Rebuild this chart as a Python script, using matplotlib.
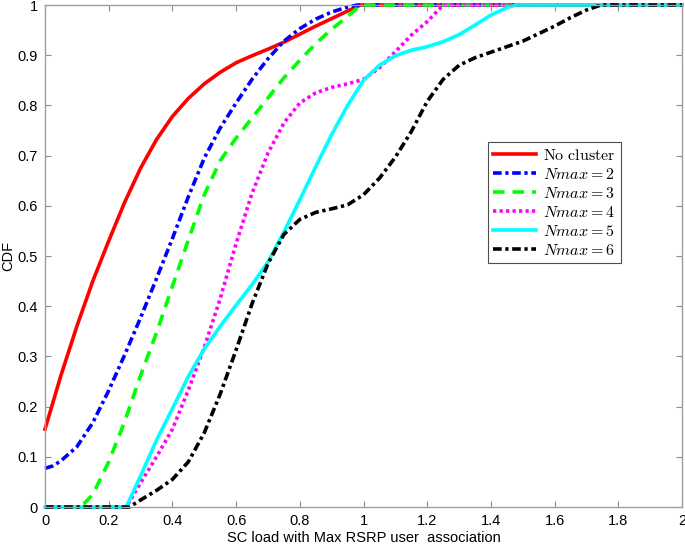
import matplotlib
matplotlib.use('Agg')
import matplotlib.pyplot as plt

plt.rcParams['font.family'] = ['Liberation Sans', 'DejaVu Sans']
plt.rcParams['mathtext.fontset'] = 'cm'

# CDF curves
x_nc = [0, 0.05, 0.1, 0.15, 0.2, 0.25, 0.3, 0.35, 0.4, 0.45, 0.5, 0.55, 0.6, 0.65, 0.7,
        0.75, 0.8, 0.85, 0.9, 0.95, 0.99, 2.0]
y_nc = [0.155, 0.262, 0.36, 0.45, 0.53, 0.607, 0.675, 0.732, 0.778, 0.814, 0.843, 0.866, 0.885,
        0.899, 0.912, 0.926, 0.942, 0.958, 0.973, 0.988, 1.0, 1.0]

x_n2 = [0, 0.025, 0.05, 0.1, 0.15, 0.2, 0.25, 0.3, 0.35, 0.4, 0.45, 0.5, 0.55, 0.6, 0.65, 0.7,
        0.75, 0.8, 0.85, 0.9, 0.95, 0.98, 2.0]
y_n2 = [0.077, 0.082, 0.092, 0.12, 0.168, 0.232, 0.303, 0.377, 0.455, 0.535, 0.618, 0.695, 0.755,
        0.805, 0.852, 0.893, 0.928, 0.953, 0.972, 0.986, 0.996, 1.0, 1.0]

x_n3 = [0, 0.1, 0.125, 0.15, 0.2, 0.25, 0.3, 0.35, 0.4, 0.45, 0.5, 0.55, 0.6, 0.65, 0.7,
        0.75, 0.8, 0.85, 0.9, 0.95, 0.99, 2.0]
y_n3 = [0, 0, 0.008, 0.025, 0.09, 0.17, 0.262, 0.347, 0.44, 0.532, 0.622, 0.69, 0.735, 0.775,
        0.815, 0.855, 0.89, 0.923, 0.952, 0.977, 1.0, 1.0]

x_n4 = [0, 0.255, 0.3, 0.35, 0.4, 0.45, 0.5, 0.55, 0.6, 0.65, 0.7, 0.75, 0.8, 0.85, 0.9,
        0.95, 1.0, 1.05, 1.1, 1.15, 1.2, 1.25, 2.0]
y_n4 = [0, 0, 0.048, 0.1, 0.155, 0.233, 0.318, 0.415, 0.525, 0.625, 0.705, 0.765, 0.805, 0.825,
        0.836, 0.843, 0.852, 0.875, 0.907, 0.94, 0.967, 1.0, 1.0]

x_n5 = [0, 0.255, 0.3, 0.35, 0.4, 0.45, 0.5, 0.55, 0.6, 0.65, 0.7, 0.75, 0.8, 0.85, 0.9,
        0.95, 1.0, 1.05, 1.1, 1.15, 1.2, 1.25, 1.3, 1.35, 1.4, 1.45, 1.48, 2.0]
y_n5 = [0, 0, 0.062, 0.133, 0.196, 0.26, 0.315, 0.36, 0.402, 0.443, 0.488, 0.548, 0.612, 0.678,
        0.742, 0.8, 0.85, 0.88, 0.899, 0.91, 0.917, 0.927, 0.941, 0.96, 0.98, 0.995, 1.0, 1.0]

x_n6 = [0, 0.265, 0.3, 0.35, 0.4, 0.45, 0.5, 0.55, 0.6, 0.65, 0.7, 0.75, 0.8, 0.85, 0.9,
        0.95, 1.0, 1.05, 1.1, 1.15, 1.2, 1.25, 1.3, 1.35, 1.4, 1.45, 1.5, 1.55, 1.6, 1.65,
        1.7, 1.745, 2.0]
y_n6 = [0, 0, 0.014, 0.033, 0.055, 0.09, 0.148, 0.225, 0.313, 0.405, 0.485, 0.543, 0.573, 0.587,
        0.594, 0.602, 0.622, 0.655, 0.697, 0.748, 0.808, 0.852, 0.88, 0.895, 0.906, 0.917, 0.928,
        0.943, 0.958, 0.975, 0.99, 1.0, 1.0]

labels = [r'$\mathrm{No\ cluster}$', r'$Nmax=2$', r'$Nmax=3$', r'$Nmax=4$',
          r'$Nmax=5$', r'$Nmax=6$']

fig = plt.figure(figsize=(6.85, 5.46), dpi=100)
ax = fig.add_axes([0.0657, 0.0714, 0.93, 0.9194])

lw = 2.6
ax.plot(x_nc, y_nc, color='#ff0000', lw=lw, label=labels[0], clip_on=False)
ax.plot(x_n2, y_n2, color='#0000ff', lw=lw, label=labels[1], clip_on=False,
        dashes=(2.4, 1.0, 0.9, 1.0))
ax.plot(x_n3, y_n3, color='#00ff00', lw=lw, label=labels[2], clip_on=False,
        dashes=(3.2, 2.2))
ax.plot(x_n4, y_n4, color='#ff00ff', lw=lw, label=labels[3], clip_on=False,
        dashes=(0.9, 0.9))
ax.plot(x_n5, y_n5, color='#00ffff', lw=lw, label=labels[4], clip_on=False)
ax.plot(x_n6, y_n6, color='black', lw=lw, label=labels[5], clip_on=False,
        dashes=(2.4, 1.0, 0.9, 1.0))

ax.set_xlim(0, 2)
ax.set_ylim(0, 1)
ax.set_xticks([0, 0.2, 0.4, 0.6, 0.8, 1, 1.2, 1.4, 1.6, 1.8, 2])
ax.set_xticklabels(['0', '0.2', '0.4', '0.6', '0.8', '1', '1.2', '1.4', '1.6', '1.8', '2'])
ax.set_yticks([0, 0.1, 0.2, 0.3, 0.4, 0.5, 0.6, 0.7, 0.8, 0.9, 1])
ax.set_yticklabels(['0', '0.1', '0.2', '0.3', '0.4', '0.5', '0.6', '0.7', '0.8', '0.9', '1'])
ax.tick_params(direction='in', length=4, width=0.8, color='#8c8c8c', labelsize=10.5,
               top=True, right=True, pad=5)
for s in ax.spines.values():
    s.set_color('#a0a0a0')
    s.set_linewidth(1.0)

ax.set_xlabel('SC load with Max RSRP user  association', fontsize=10.5, labelpad=2)
ax.set_ylabel('CDF', fontsize=10.5, labelpad=2)

leg = ax.legend(loc='upper left', bbox_to_anchor=(0.695, 0.727), fontsize=11.5,
                handlelength=2.7, handletextpad=0.4, labelspacing=0.25,
                borderpad=0.35, fancybox=False, framealpha=1, borderaxespad=0)
leg.get_frame().set_edgecolor('#4d4d4d')
leg.get_frame().set_linewidth(0.8)

fig.savefig('out.png', dpi=100)
